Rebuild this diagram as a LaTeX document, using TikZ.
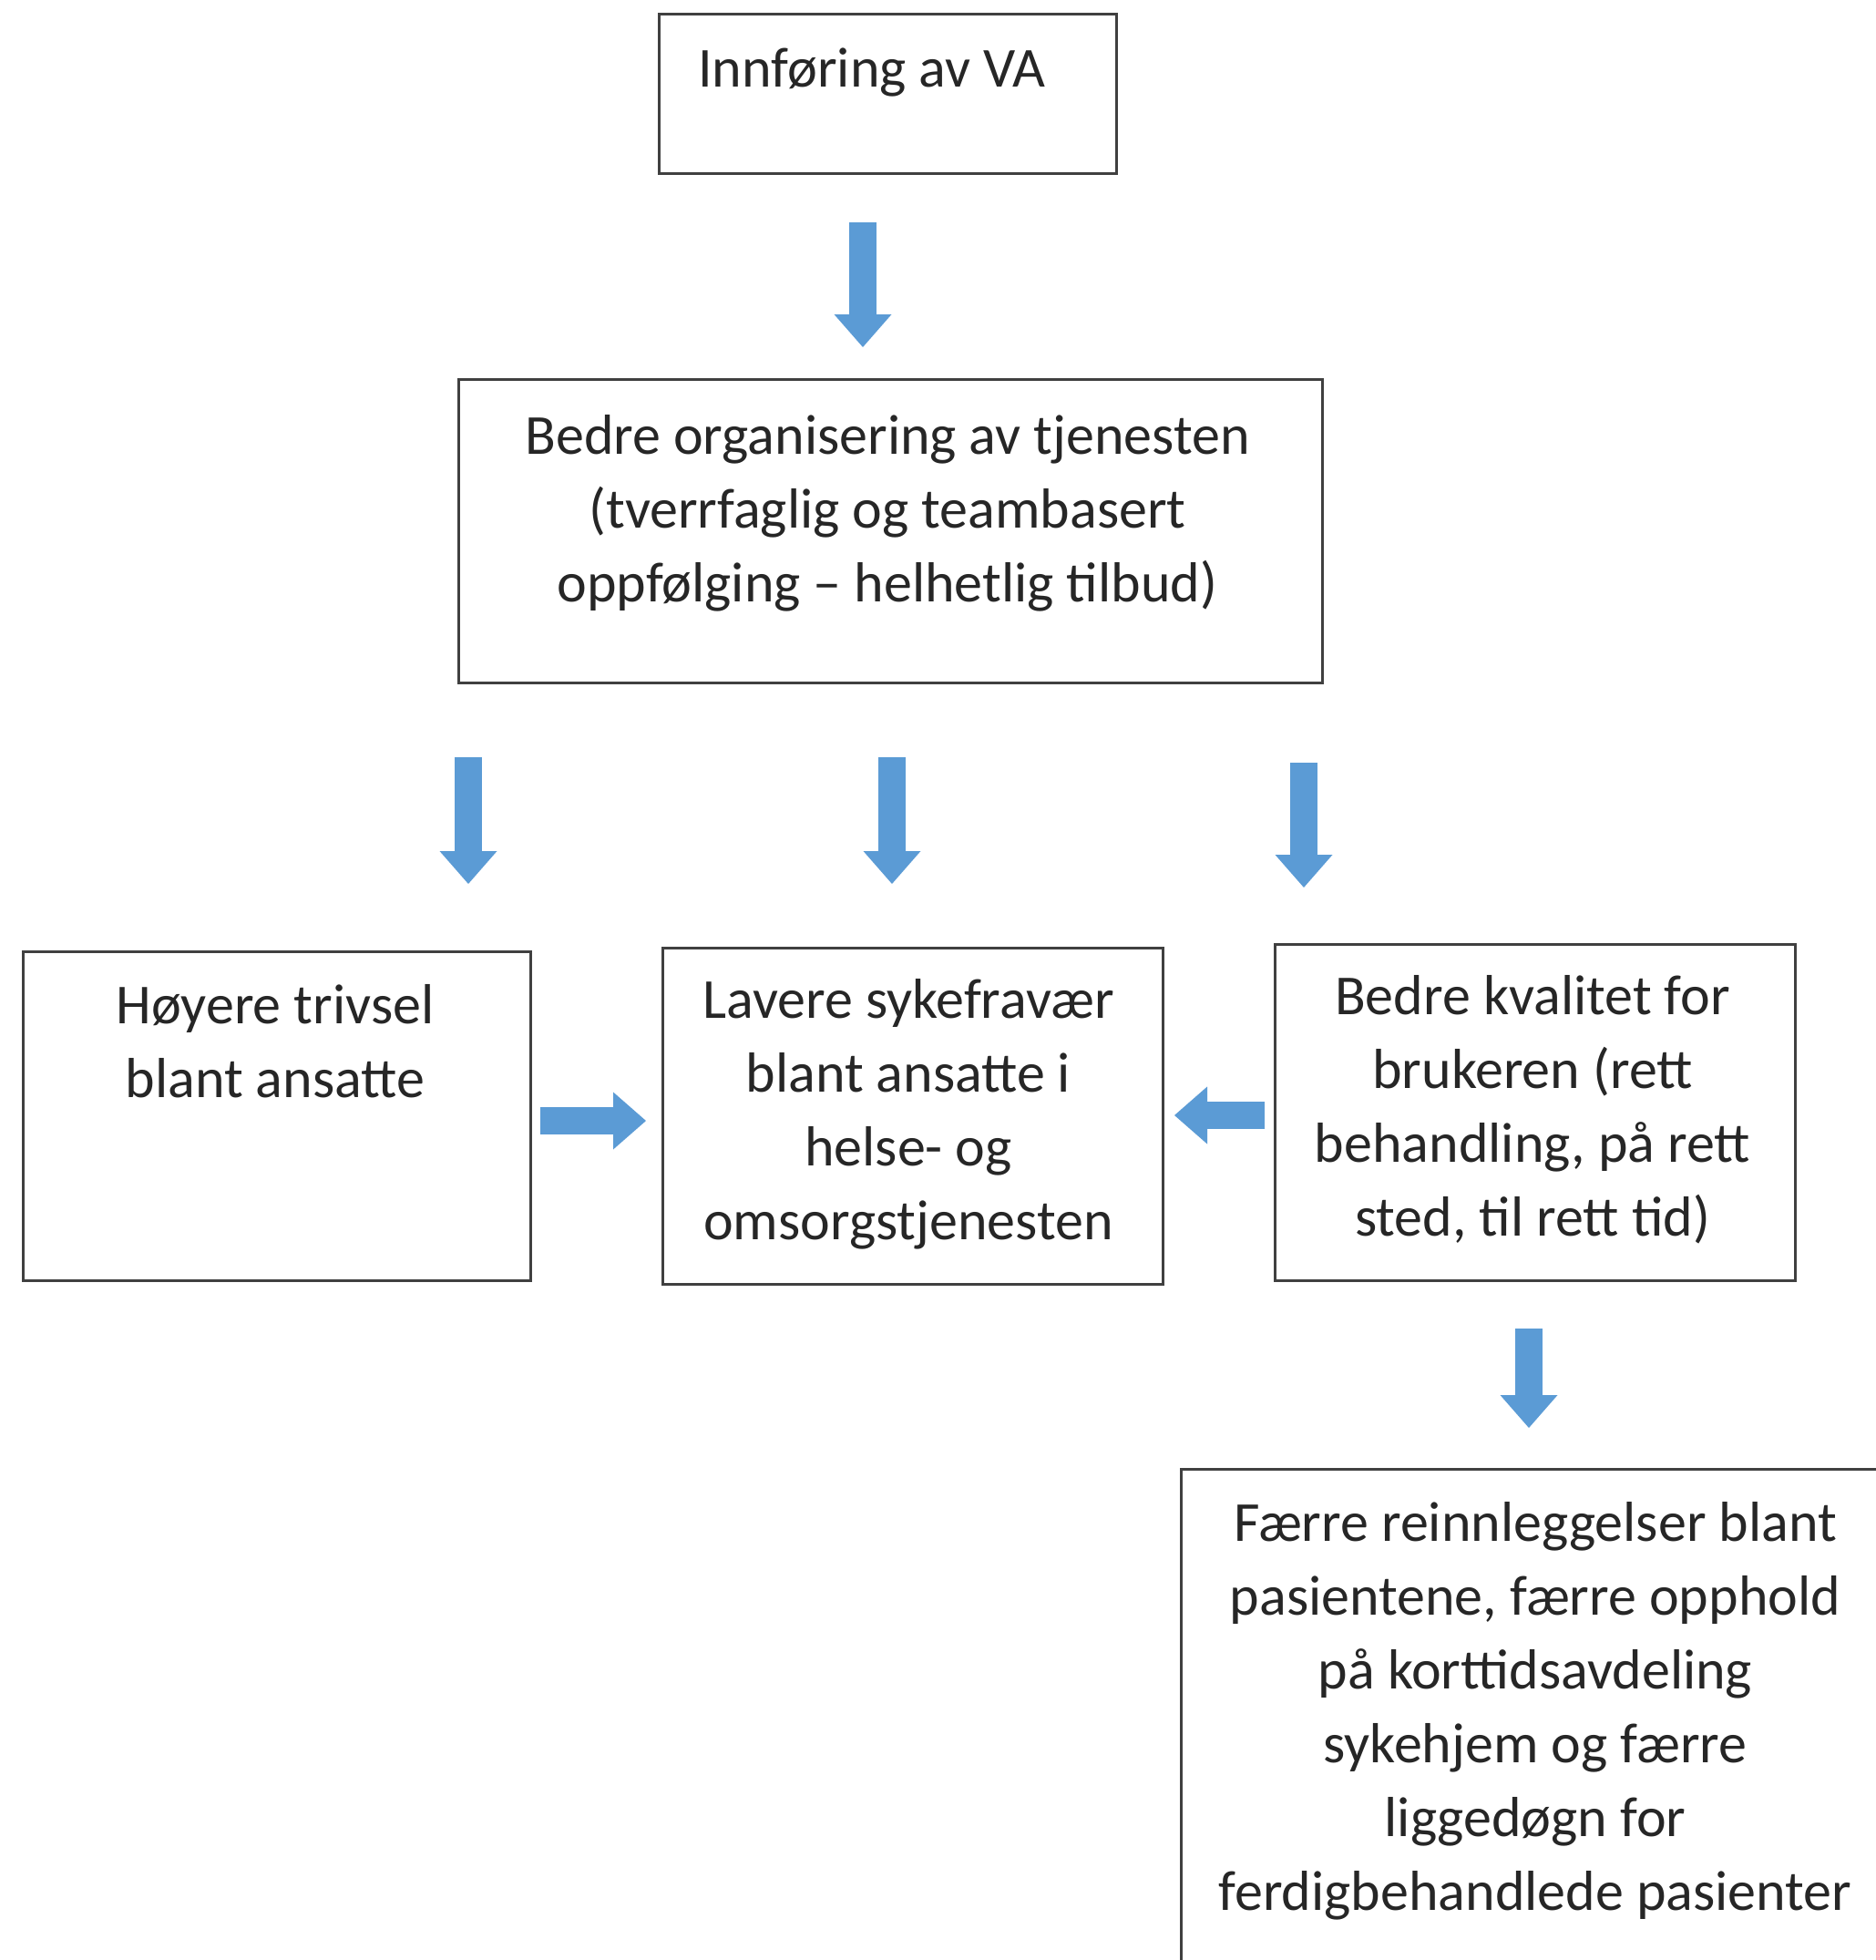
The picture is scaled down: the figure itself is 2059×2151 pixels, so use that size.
\documentclass[tikz,border=0pt]{standalone}
\usepackage{fontspec}
\setmainfont{Carlito}
\usetikzlibrary{arrows.meta}
\definecolor{arrowblue}{HTML}{5B9BD5}
\definecolor{boxline}{HTML}{404040}
\definecolor{txtcol}{HTML}{262626}
\begin{document}
\begin{tikzpicture}[x=0.5pt,y=-0.5pt,
  box/.style={draw=boxline, line width=1.5pt, rectangle, inner sep=0pt, fill=white},
  txt/.style={font=\fontsize{31}{40.5}\selectfont, align=center, text=txtcol, inner sep=0pt},
  blockarrow/.style={draw=arrowblue, line width=15pt,
    -{Triangle[width=31.5pt,length=18pt,line width=0pt]}}]
\useasboundingbox (0,0) rectangle (2059,2151);
\clip (0,0) rectangle (2059,2151);
\fill[white] (0,0) rectangle (2059,2151);
% boxes
\node[box, minimum width=251pt, minimum height=87.5pt] (b1) at (974,103.5) {};
\node[box, minimum width=474pt, minimum height=166.5pt] (b2) at (977,582.5) {};
\node[box, minimum width=278.5pt, minimum height=180.5pt] (bL) at (303.5,1224.5) {};
\node[box, minimum width=274.5pt, minimum height=184.5pt] (bM) at (1001.5,1224.5) {};
\node[box, minimum width=285.5pt, minimum height=184.5pt] (bR) at (1684.5,1220.5) {};
\node[box, minimum width=402pt, minimum height=294pt] (bB) at (1698,1906) {};
% texts
\node[txt] (t1) at (957,80) {Innføring av VA};
\node[txt] (t2) at (974,563) {Bedre organisering av tjenesten\\(tverrfaglig og teambasert\\oppfølging – helhetlig tilbud)};
\node[txt] (tL) at (302,1143) {Høyere trivsel\\blant ansatte};
\node[txt] (tM) at (997,1223) {Lavere sykefravær\\blant ansatte i\\helse- og\\omsorgstjenesten};
\node[txt] (tR) at (1682,1218) {Bedre kvalitet for\\brukeren (rett\\behandling, på rett\\sted, til rett tid)};
\node[txt] (tB) at (1685,1878) {Færre reinnleggelser blant\\pasientene, færre opphold\\på korttidsavdeling\\sykehjem og færre\\liggedøgn for\\ferdigbehandlede pasienter};
% arrow end points
\coordinate (a1s) at (947,244);  \coordinate (a1e) at (947,381);
\coordinate (a2s) at (514,831);  \coordinate (a2e) at (514,970);
\coordinate (a3s) at (979,831);  \coordinate (a3e) at (979,970);
\coordinate (a4s) at (1431,837); \coordinate (a4e) at (1431,974);
\coordinate (a5s) at (593,1230); \coordinate (a5e) at (709,1230);
\coordinate (a6s) at (1388,1224);\coordinate (a6e) at (1289,1224);
\coordinate (a7s) at (1678,1458);\coordinate (a7e) at (1678,1567);
\foreach \s/\e in {a1s/a1e,a2s/a2e,a3s/a3e,a4s/a4e,a5s/a5e,a6s/a6e,a7s/a7e}
  \draw[blockarrow] (\s) -- (\e);
\end{tikzpicture}
\end{document}
